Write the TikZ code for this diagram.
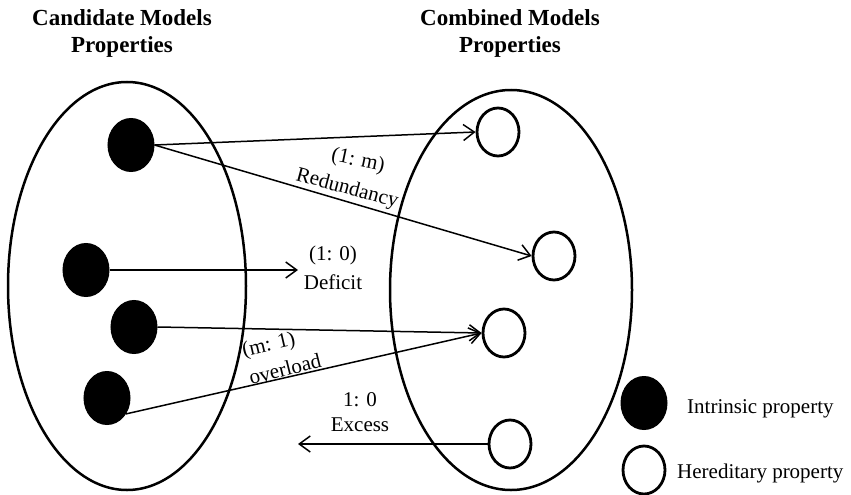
\documentclass[tikz,border=0pt]{standalone}
\usepackage{fontspec}
\setmainfont{Liberation Serif}
\usetikzlibrary{arrows.meta,shapes.geometric}
\begin{document}
\begin{tikzpicture}[x=1pt,y=-1pt,
  intr/.style={ellipse,fill=black,draw=black,line width=1pt,minimum width=46pt,minimum height=53pt,inner sep=0pt},
  hered/.style={ellipse,draw=black,line width=2.8pt,minimum width=42pt,minimum height=48pt,inner sep=0pt},
  conn/.style={line width=1.5pt,-{Straight Barb[length=11pt,width=16pt,line width=1.5pt]}},
  lbl/.style={font=\fontsize{21}{24}\selectfont,inner sep=0pt},
  ttl/.style={font=\fontsize{23}{27}\selectfont\bfseries,align=center,inner sep=0pt},
  group/.style={line width=2.5pt}]
\useasboundingbox (0,0) rectangle (851,495);
% titles
\node[ttl] (t1) at (122,33) {Candidate Models\\Properties};
\node[ttl] (t2) at (510,33) {Combined Models\\Properties};
% containers
\draw[group] (127,286) ellipse [x radius=119, y radius=204];
\draw[group] (511,290) ellipse [x radius=121, y radius=200];
% intrinsic
\node[intr] (b1) at (131,145) {};
\node[intr] (b2) at (86,270) {};
\node[intr] (b3) at (134,327) {};
\node[intr] (b4) at (107,398) {};
% hereditary
\node[hered] (w1) at (498,132) {};
\node[hered] (w2) at (554,256) {};
\node[hered] (w3) at (504,333) {};
\node[hered] (w4) at (510,444) {};
\coordinate (e3) at (298,270);
\coordinate (e6) at (298,444);
% connectors
\draw[conn] (b1.east) -- (w1.west);
\draw[conn] (b1.east) -- (w2.west);
\draw[conn] (b2.east) -- (e3);
\draw[conn] (b3.east) -- (w3.west);
\draw[conn] (b4.-40) -- (w3.west);
\draw[conn] (w4.west) -- (e6);
% labels
\node[lbl,rotate=-12] (l1a) at (358,161) {(1: m)};
\node[lbl,rotate=-15] (l1b) at (347,189) {Redundancy};
\node[lbl] (l2a) at (333,255) {(1: 0)};
\node[lbl] (l2b) at (333,282) {Deficit};
\node[lbl,rotate=13] (l3a) at (269,346) {(m: 1)};
\node[lbl,rotate=14] (l3b) at (285,369) {overload};
\node[lbl] (l4a) at (360,400) {1: 0};
\node[lbl] (l4b) at (360,425) {Excess};
% legend
\node[intr] (k1) at (644,403) {};
\node[hered] (k2) at (644,470) {};
\node[lbl,anchor=west] (k1t) at (687,409) {Intrinsic property};
\node[lbl,anchor=west] (k2t) at (677,473) {Hereditary property};
\end{tikzpicture}
\end{document}
